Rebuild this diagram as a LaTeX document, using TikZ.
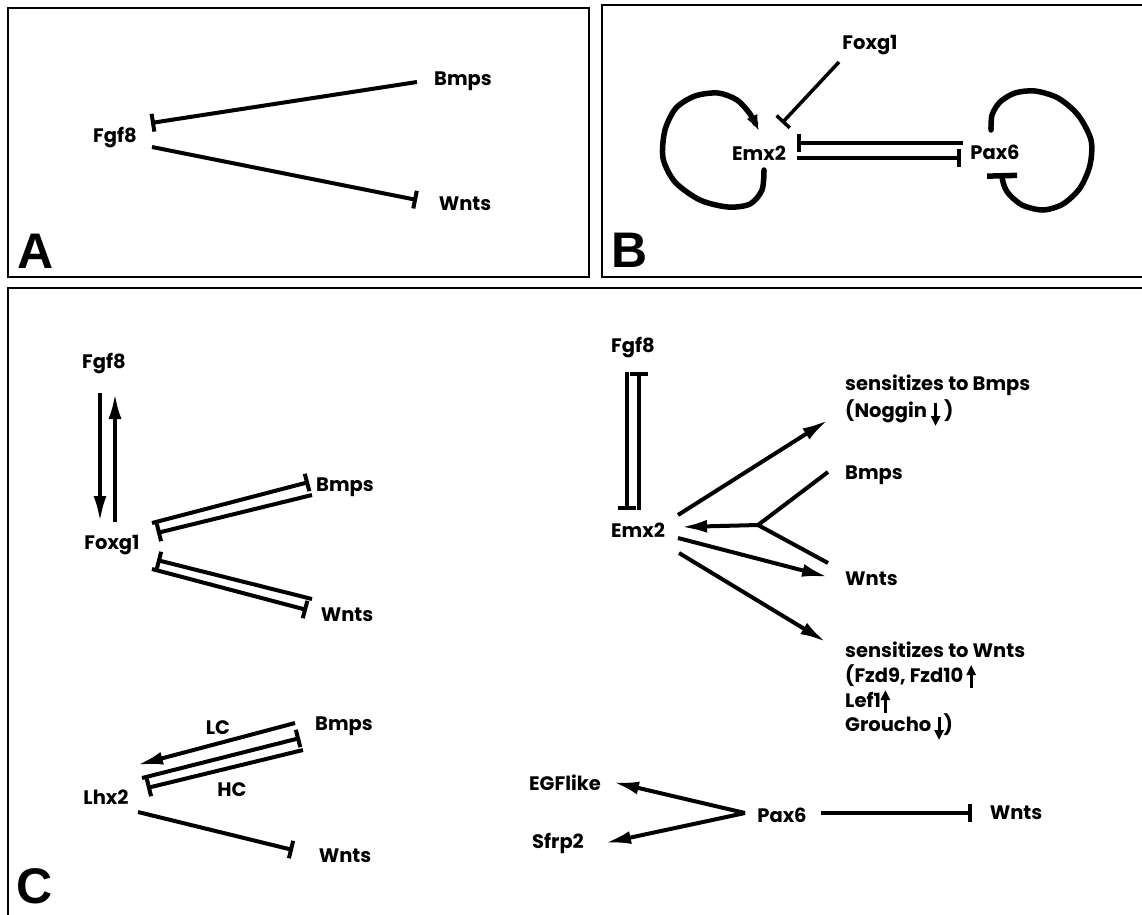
\documentclass[tikz,border=0pt]{standalone}
\usepackage{fontspec}
\setmainfont{Poppins}
\newfontfamily\panelfont{Liberation Sans}
\usetikzlibrary{arrows.meta,calc}
\newcommand\uparr{\tikz[baseline=0pt]\draw[line width=3pt,-{Triangle[length=10pt,width=9pt]}] (0pt,-6pt) -- (0pt,17pt);}
\newcommand\dnarr{\tikz[baseline=0pt]\draw[line width=3pt,-{Triangle[length=10pt,width=9pt]}] (0pt,14pt) -- (0pt,-9pt);}
\tikzset{
  lab/.style={font=\bfseries\fontsize{19.5}{24}\selectfont, inner sep=0pt},
  llab/.style={lab, anchor=base west},
  panel/.style={font=\panelfont\bfseries\fontsize{50}{50}\selectfont, inner sep=0pt},
  frame/.style={line width=2.5pt},
  act/.style={line width=4pt, -{Latex[length=26pt,width=13pt]}},
  inh/.style={line width=4pt, -{Bar[width=18pt]}},
  selfloop/.style={line width=5.5pt, line cap=round, line join=round},
}
\begin{document}
\begin{tikzpicture}[x=1pt,y=-1pt]
\useasboundingbox (0,0) rectangle (1142,914);
\fill[white] (0,0) rectangle (1142,914);
\clip (0,0) rectangle (1142,914);
% frames
\draw[frame] (8,8) rectangle (589,277);
\draw[frame] (602,5) rectangle (1170,277);
\draw[frame] (8,288) rectangle (1170,940);
% ---------- Panel A
\node[lab] (fgfA) at (115,138) {Fgf8};
\node[lab] (bmpA) at (463,81) {Bmps};
\node[lab] (wntA) at (465,204) {Wnts};
\draw[inh] ($(bmpA)+(-46,1)$) -- ($(fgfA)+(36,-15)$);
\draw[inh] ($(fgfA)+(37,9)$) -- ($(wntA)+(-48,-4)$);
\node[panel] (pA) at (36,251) {A};
% ---------- Panel B
\node[lab] (foxB) at (870,45) {Foxg1};
\node[lab] (emxB) at (759,153) {Emx2};
\node[lab] (paxB) at (995,152) {Pax6};
\draw[line width=3.5pt, -{Bar[width=18pt]}] ($(foxB)+(-31,17)$) -- ($(emxB)+(23,-30)$);
\draw[inh] ($(paxB)+(-32,-9)$) -- ($(emxB)+(38,-10)$);
\draw[inh] ($(emxB)+(38,5)$) -- ($(paxB)+(-34,6)$);
\draw[selfloop, -{Latex[length=16pt,width=12pt]}, shift={(emxB)}] plot[smooth] coordinates
  {(5,17) (3,37) (-9,51) (-31,54) (-59,47) (-84,29) (-96,5) (-94,-23) (-83,-45) (-64,-57) (-41,-60) (-22,-53) (-9,-39) (0,-22)};
\draw[selfloop, -{Bar[width=30pt,line cap=butt]}, shift={(paxB)}] plot[smooth] coordinates
  {(-4,-22) (-3,-37) (5,-50) (20,-59) (40,-61) (63,-54) (83,-37) (96,-12) (95,13) (85,36) (68,52) (48,58) (27,53) (13,41) (8,30) (7,21)};
\node[panel] (pB) at (630,250) {B};
% ---------- Panel C, left
\node[lab] (fgfC1) at (104,364) {Fgf8};
\node[lab] (foxC) at (112,545) {Foxg1};
\node[lab] (bmpC1) at (345,487) {Bmps};
\node[lab] (wntC1) at (347,615) {Wnts};
\draw[act] ($(fgfC1)+(-4,29)$) -- ($(foxC)+(-12,-23)$);
\draw[act] ($(foxC)+(3,-23)$) -- ($(fgfC1)+(11,29)$);
\draw[inh] ($(foxC)+(40,-22)$) -- ($(bmpC1)+(-36,-5)$);
\draw[inh] ($(bmpC1)+(-33,8)$) -- ($(foxC)+(45,-12)$);
\draw[inh] ($(wntC1)+(-35,-16)$) -- ($(foxC)+(45,15)$);
\draw[inh] ($(foxC)+(40,24)$) -- ($(wntC1)+(-40,-5)$);
\node[lab] (lhx) at (106,797) {Lhx2};
\node[lab] (bmpC2) at (344,726) {Bmps};
\node[lab] (wntC2) at (345,856) {Wnts};
\node[lab] (lc) at (218,728) {LC};
\node[lab] (hc) at (232,790) {HC};
\draw[act] ($(bmpC2)+(-49,-3)$) -- ($(lhx)+(31,-32)$);
\draw[inh] ($(lhx)+(36,-19)$) -- ($(bmpC2)+(-44,12)$);
\draw[inh] ($(bmpC2)+(-41,24)$) -- ($(lhx)+(41,-9)$);
\draw[inh] ($(lhx)+(32,15)$) -- ($(wntC2)+(-52,-6)$);
\node[panel] (pC) at (35,886) {C};
% ---------- Panel C, right
\node[lab] (fgfC2) at (633,348) {Fgf8};
\node[lab] (emxC) at (638,530) {Emx2};
\draw[inh] ($(fgfC2)+(-6,24)$) -- ($(emxC)+(-11,-20)$);
\draw[inh] ($(emxC)+(1,-20)$) -- ($(fgfC2)+(6,24)$);
\node[llab] (sensB) at (845,390) {sensitizes to Bmps};
\node[llab] (nog) at (845,417) {(Noggin \dnarr\ )};
\node[llab] (bmpC3) at (845,479) {Bmps};
\node[llab] (wntC3) at (845,585) {Wnts};
\node[llab] (sensW) at (845,657) {sensitizes to Wnts};
\node[llab] (fzd) at (845,682) {(Fzd9, Fzd10\,\uparr};
\node[llab] (lef) at (845,707) {Lef1\uparr};
\node[llab] (gro) at (845,731) {Groucho\,\dnarr)};
\coordinate (J) at (758,525);
\draw[line width=4pt, line join=miter] ($(bmpC3.base west)+(-17,-7)$) -- (J) -- ($(wntC3.base west)+(-17,-22)$);
\draw[act] (J) -- ($(emxC)+(43,-3)$);
\draw[act] ($(emxC)+(40,-15)$) -- ($(sensB.base west)+(-17,30)$);
\draw[act] ($(emxC)+(40,8)$) -- ($(wntC3.base west)+(-17,-8)$);
\draw[act] ($(emxC)+(41,23)$) -- ($(sensW.base west)+(-19,-15)$);
% ---------- Panel C, bottom right
\node[lab] (egf) at (565,783) {EGFlike};
\node[lab] (sfrp) at (558,843) {Sfrp2};
\node[lab] (paxC) at (782,815) {Pax6};
\node[lab] (wntC4) at (1016,813) {Wnts};
\draw[act] ($(paxC)+(-37,-2)$) -- ($(egf)+(48,-1)$);
\draw[act] ($(paxC)+(-37,-2)$) -- ($(sfrp)+(47,0)$);
\draw[inh] ($(paxC)+(39,-2)$) -- ($(wntC4)+(-44,0)$);
\end{tikzpicture}
\end{document}
